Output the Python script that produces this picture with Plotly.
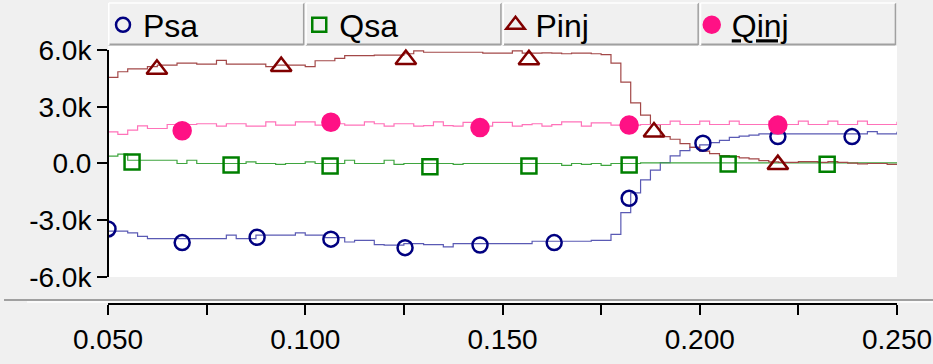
import plotly.graph_objects as go

# ---------------- data (values in k-units) ----------------
time = [round(0.05 + 0.0025 * i, 4) for i in range(81)]

psa = [-3.58, -3.58, -3.67, -3.85, -3.97, -3.97, -3.97, -3.97, -3.97, -3.97,
       -3.97, -3.97, -3.79, -3.97, -3.97, -3.79, -3.79, -3.79, -3.79, -3.67,
       -3.79, -3.79, -3.92, -3.92, -4.15, -4.06, -4.06, -4.29, -4.32, -4.32,
       -4.24, -4.24, -4.29, -4.29, -4.41, -4.24, -4.24, -4.24, -4.24, -4.24,
       -4.24, -4.24, -4.24, -4.11, -4.11, -4.11, -4.11, -4.11, -4.11, -4.06,
       -4.06, -3.75, -2.60, -1.55, -0.87, -0.35, 0.05, 0.40, 0.68, 0.85,
       0.98, 1.10, 1.22, 1.38, 1.45, 1.50, 1.56, 1.56, 1.56, 1.56,
       1.56, 1.56, 1.56, 1.56, 1.56, 1.56, 1.56, 1.68, 1.56, 1.56, 1.68]

qsa = [0.39, 0.49, 0.17, 0.17, 0.17, 0.17, 0.17, 0.00, 0.17, 0.00,
       0.00, 0.00, 0.00, 0.00, 0.09, 0.00, 0.00, -0.05, 0.00, 0.00,
       0.09, 0.00, 0.00, 0.00, 0.17, 0.00, 0.00, 0.00, 0.17, -0.05,
       0.00, 0.00, 0.00, 0.00, 0.00, -0.05, 0.00, 0.00, 0.00, 0.00,
       0.00, 0.00, 0.00, 0.00, 0.00, 0.00, -0.10, 0.00, -0.05, 0.00,
       -0.10, 0.00, 0.00, 0.00, 0.03, 0.03, 0.03, 0.03, 0.03, 0.03,
       0.03, 0.03, 0.03, 0.03, 0.03, 0.03, 0.03, 0.03, 0.03, 0.03,
       0.03, 0.03, 0.03, 0.03, 0.03, 0.03, 0.03, 0.03, 0.03, 0.03, 0.03]

pinj = [4.55, 4.85, 5.00, 5.00, 5.12, 5.20, 5.20, 5.30, 5.30, 5.25,
        5.25, 5.45, 5.25, 5.25, 5.25, 5.25, 5.12, 5.20, 5.20, 5.20,
        5.12, 5.43, 5.43, 5.56, 5.70, 5.70, 5.70, 5.73, 5.73, 5.73,
        5.80, 5.95, 5.88, 5.88, 5.88, 5.88, 5.88, 5.88, 5.83, 5.83,
        5.83, 5.95, 5.83, 5.83, 5.85, 5.83, 5.80, 5.83, 5.83, 5.80,
        5.75, 5.30, 4.30, 3.20, 2.56, 2.05, 1.42, 1.28, 1.05, 0.85,
        0.65, 0.52, 0.42, 0.36, 0.30, 0.24, 0.15, 0.08, 0.06, 0.06,
        0.10, 0.10, 0.06, 0.10, 0.06, 0.02, -0.02, 0.00, 0.00, -0.05, -0.05]

qinj = [1.67, 1.54, 1.76, 1.99, 1.85, 1.85, 2.06, 2.06, 2.06, 2.10,
        2.10, 1.97, 2.10, 2.10, 1.97, 1.97, 2.20, 2.03, 2.03, 2.20,
        2.20, 2.03, 2.10, 2.10, 2.03, 2.03, 2.20, 2.10, 1.97, 2.10,
        2.10, 1.97, 2.00, 2.20, 2.00, 1.97, 2.17, 2.10, 1.97, 2.17,
        2.17, 1.97, 2.05, 2.10, 1.97, 2.05, 2.20, 2.20, 1.97, 2.15,
        2.15, 2.03, 2.03, 2.03, 2.06, 2.06, 2.06, 2.24, 2.06, 2.06,
        2.24, 2.06, 2.06, 2.24, 2.06, 2.06, 2.06, 2.24, 2.06, 2.06,
        2.24, 2.06, 2.06, 2.24, 2.06, 2.06, 2.24, 2.06, 2.06, 2.06, 2.20]

# marker samples
psa_mt = [0.0500, 0.0688, 0.0878, 0.1065, 0.1253, 0.1443, 0.1631, 0.1821, 0.2008, 0.2198, 0.2386]
psa_mv = [-3.46, -4.18, -3.90, -4.00, -4.45, -4.31, -4.18, -1.84, 1.07, 1.42, 1.42]
qsa_mt = [0.0561, 0.0812, 0.1063, 0.1316, 0.1567, 0.1821, 0.2072, 0.2323]
qsa_mv = [0.08, -0.08, -0.13, -0.17, -0.13, -0.08, -0.03, -0.04]
pinj_mt = [0.0624, 0.0939, 0.1255, 0.1567, 0.1884, 0.2198]
pinj_mv = [4.98, 5.13, 5.50, 5.48, 1.66, -0.06]
qinj_mt = [0.0688, 0.1065, 0.1443, 0.1821, 0.2198]
qinj_mv = [1.73, 2.18, 1.90, 2.03, 2.03]

y_ticks = [-6, -3, 0, 3, 6]
y_ticktext = ["-6.0k", "-3.0k", "0.0", "3.0k", "6.0k"]

names = ["Psa", "Qsa", "Pinj", "Qinj"]
legend_labels = ["Psa", "Qsa", "Pinj", "<u>Qinj</u>"]

# ---------------- styling ----------------
line_colors = ["#5a5ab4", "#3fa53f", "#a34848", "#ff72b9"]
mark_colors = ["#000080", "#008000", "#800000", "#ff1185"]
symbols = ["circle-open", "square-open", "triangle-up-open", "circle"]
msizes = [15, 15, 18, 17]

series = [psa, qsa, pinj, qinj]
mts = [psa_mt, qsa_mt, pinj_mt, qinj_mt]
mvs = [psa_mv, qsa_mv, pinj_mv, qinj_mv]

FONT = "Liberation Sans, Arial, sans-serif"
BG = "#f0f0f0"

fig = go.Figure()
for k in range(4):
    fig.add_trace(go.Scatter(x=time, y=series[k], mode="lines", line_shape="hv",
                             line=dict(color=line_colors[k], width=1.2),
                             showlegend=False, hoverinfo="skip"))
for k in range(4):
    fig.add_trace(go.Scatter(x=mts[k], y=mvs[k], mode="markers",
                             marker=dict(symbol=symbols[k], size=msizes[k], color=mark_colors[k],
                                         line=dict(width=2.5, color=mark_colors[k])),
                             showlegend=False, hoverinfo="skip"))
for k in range(4):
    fig.add_trace(go.Scatter(x=[None], y=[None], mode="markers", name=legend_labels[k],
                             marker=dict(symbol=symbols[k], size=msizes[k] - 1, color=mark_colors[k],
                                         line=dict(width=2.5, color=mark_colors[k])),
                             showlegend=True))

H_PLOT = 258.0  # pixel height of plotting region (46 -> 304)
W_PLOT = 789.0


def py(pix):
    return (304 - pix) / H_PLOT


def px(pix):
    return (pix - 108) / W_PLOT


shapes = []
# white plotting background
shapes.append(dict(type="rect", xref="x domain", yref="y domain", x0=0, x1=1, y0=0, y1=1,
                   fillcolor="white", line=dict(width=0), layer="below"))
# y axis line
shapes.append(dict(type="line", xref="paper", yref="y", x0=0, x1=0, y0=-6, y1=6,
                   line=dict(color="black", width=2)))
# separator between plot and time axis
shapes.append(dict(type="line", xref="paper", yref="paper", x0=px(4), x1=px(933), y0=py(300), y1=py(300),
                   line=dict(color="#a0a0a0", width=2)))
shapes.append(dict(type="line", xref="paper", yref="paper", x0=px(27), x1=px(933), y0=py(302), y1=py(302),
                   line=dict(color="white", width=1.5)))
# legend buttons
for i in range(4):
    x0 = i * 0.25 + 0.001
    x1 = (i + 1) * 0.25 - 0.002
    shapes.append(dict(type="rect", xref="paper", yref="paper", x0=x0, x1=x1, y0=py(45), y1=py(3),
                       fillcolor=BG, line=dict(width=0), layer="below"))
    shapes.append(dict(type="line", xref="paper", yref="paper", x0=x0, x1=x1, y0=py(44.5), y1=py(44.5),
                       line=dict(color="#a0a0a0", width=2), layer="below"))
    shapes.append(dict(type="line", xref="paper", yref="paper", x0=x1, x1=x1, y0=py(45), y1=py(3),
                       line=dict(color="#a0a0a0", width=1.5), layer="below"))
    shapes.append(dict(type="line", xref="paper", yref="paper", x0=x0, x1=x1, y0=py(3), y1=py(3),
                       line=dict(color="white", width=1.5), layer="below"))
    shapes.append(dict(type="line", xref="paper", yref="paper", x0=x0, x1=x0, y0=py(45), y1=py(3),
                       line=dict(color="white", width=1.5), layer="below"))

fig.update_layout(
    width=933, height=364,
    margin=dict(l=108, r=36, t=46, b=60, autoexpand=False),
    paper_bgcolor=BG, plot_bgcolor=BG,
    font=dict(family=FONT, size=28, color="black"),
    shapes=shapes,
    showlegend=True,
    legend=dict(orientation="h", x=px(103), xanchor="left", y=py(25), yanchor="middle",
                entrywidth=151.25, entrywidthmode="pixels", bgcolor="rgba(0,0,0,0)",
                borderwidth=0, font=dict(family=FONT, size=32, color="black"),
                itemwidth=30, tracegroupgap=0),
    xaxis=dict(range=[0.05, 0.25], anchor="free", position=0,
               tick0=0.05, dtick=0.05, tickformat=".3f",
               ticks="outside", ticklen=10, tickwidth=2, tickcolor="black",
               minor=dict(dtick=0.025, tick0=0.05, ticks="outside", ticklen=10, tickwidth=2, tickcolor="black"),
               showline=True, linecolor="black", linewidth=2,
               showgrid=False, zeroline=False, ticklabeloverflow="allow",
               tickfont=dict(family=FONT, size=28)),
    yaxis=dict(range=[-6.0, 6.21], domain=[27 / H_PLOT, 1],
               tickvals=y_ticks, ticktext=y_ticktext,
               ticks="outside", ticklen=10, tickwidth=2, tickcolor="black",
               showline=False, showgrid=False, zeroline=False,
               tickfont=dict(family=FONT, size=28)),
)

fig.write_html("out.html")
